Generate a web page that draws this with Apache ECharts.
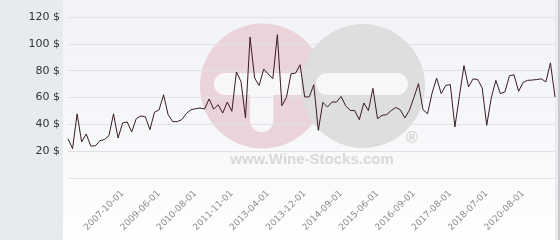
<!DOCTYPE html>
<html>
<head>
<meta charset="utf-8">
<script src="https://cdn.jsdelivr.net/npm/echarts@6/dist/echarts.min.js"></script>
<style>
html,body{margin:0;padding:0;background:#fff;}
#chart{width:560px;height:240px;}
</style>
</head>
<body>
<div id="chart"></div>
<script>
// Tick labels shown on the x axis (every 8th point, starting at point 12)
const tickLabels = ['2007-10-01','2009-06-01','2010-08-01','2011-11-01','2013-04-01','2013-12-01',
  '2014-09-01','2015-06-01','2016-09-01','2017-08-01','2018-07-01','2020-08-01'];
const firstLabelIndex = 12;
const labelEvery = 8;

// Price values ($)
const prices = [
  29.3, 21.9, 47.8, 26.9, 32.8, 23.9, 23.9, 27.8, 28.6, 31.6,
  47.8, 29.8, 41.0, 41.8, 34.3, 44.3, 46.3, 45.6, 36.0, 49.0,
  50.7, 62.0, 47.2, 42.0, 42.0, 43.5, 48.0, 50.9, 51.6, 52.2,
  51.4, 58.9, 51.4, 54.6, 48.4, 56.6, 49.7, 79.0, 72.0, 44.7,
  105.0, 74.5, 69.0, 81.2, 77.5, 74.0, 106.8, 53.9, 60.1, 77.7,
  78.2, 84.4, 60.4, 60.4, 69.5, 35.5, 56.4, 52.9, 56.6, 56.6,
  60.8, 53.9, 50.4, 50.2, 43.5, 55.9, 50.2, 66.8, 44.2, 46.7,
  47.2, 50.2, 52.6, 50.9, 44.7, 50.4, 60.0, 70.3, 50.9, 47.9,
  63.4, 74.5, 62.9, 69.0, 69.6, 38.0, 61.0, 83.8, 67.9, 73.9,
  73.4, 67.2, 39.3, 59.7, 72.8, 62.9, 64.2, 76.3, 76.9, 64.6,
  71.3, 72.8, 73.0, 73.4, 73.9, 71.6, 85.8, 60.4
];

const yTicks = [0, 20, 40, 60, 80, 100, 120];

// categories: one per point; only labelled points carry their date
const categories = prices.map(function (v, i) {
  const k = i - firstLabelIndex;
  if (k >= 0 && k % labelEvery === 0 && k / labelEvery < tickLabels.length) {
    return tickLabels[k / labelEvery];
  }
  return '';
});

const chart = echarts.init(document.getElementById('chart'), null, {renderer: 'canvas'});
chart.setOption({
  animation: false,
  backgroundColor: '#ffffff',
  graphic: [
    {type: 'rect', z: -20, shape: {x: 0, y: 0, width: 63, height: 240}, style: {fill: '#e8ebee'}, silent: true},
    {type: 'rect', z: -20, shape: {x: 63, y: 0, width: 497, height: 240},
      style: {fill: new echarts.graphic.LinearGradient(0, 0, 0, 1, [
        {offset: 0, color: '#f2f3f7'}, {offset: 0.6, color: '#f7f8fa'}, {offset: 1, color: '#ffffff'}])}, silent: true},
    {type: 'rect', z: -20, shape: {x: 555, y: 0, width: 3, height: 240}, style: {fill: '#ebebef'}, silent: true},
    {type: 'rect', z: -20, shape: {x: 558, y: 0, width: 2, height: 240}, style: {fill: '#c9c9cc'}, silent: true},
    // watermark
    {type: 'circle', z: -15, shape: {cx: 262.5, cy: 86, r: 62.5}, style: {fill: '#ead3d9'}, silent: true},
    {type: 'rect', z: -14, shape: {x: 214, y: 73, width: 100, height: 22, r: 11}, style: {fill: '#f7f7f9'}, silent: true},
    {type: 'rect', z: -14, shape: {x: 250, y: 73, width: 23.5, height: 59, r: [0, 0, 11.5, 11.5]}, style: {fill: '#f7f7f9'}, silent: true},
    {type: 'circle', z: -13, shape: {cx: 363, cy: 86, r: 62}, style: {fill: '#dedede'}, silent: true},
    {type: 'rect', z: -12, shape: {x: 316, y: 73, width: 92, height: 22, r: 11}, style: {fill: '#f7f7f9'}, silent: true},
    {type: 'text', z: -12, style: {text: 'www.Wine-Stocks.com', x: 312, y: 160, align: 'center', verticalAlign: 'middle',
      font: 'bold 15px "Liberation Sans", Arial, sans-serif', fill: '#d8d8d8'}, silent: true},
    {type: 'text', z: -12, style: {text: '®', x: 412, y: 139, align: 'center', verticalAlign: 'middle',
      font: 'bold 16px "Liberation Sans", Arial, sans-serif', fill: '#d2d2d2'}, silent: true}
  ],
  grid: {left: 68, right: 5, top: 17, bottom: 62, containLabel: false},
  xAxis: {
    type: 'category',
    data: categories,
    boundaryGap: false,
    axisLine: {show: false},
    axisTick: {show: false},
    splitLine: {show: false},
    axisLabel: {
      interval: function (i, v) { return v !== ''; },
      rotate: 45,
      margin: 14,
      fontSize: 9,
      fontFamily: '"DejaVu Sans", sans-serif',
      color: '#8c8c8c'
    }
  },
  yAxis: {
    type: 'value',
    min: yTicks[0],
    max: yTicks[yTicks.length - 1],
    interval: yTicks[1] - yTicks[0],
    axisLine: {show: false},
    axisTick: {show: false},
    splitLine: {show: true, lineStyle: {color: '#e1e2e6', width: 1}},
    axisLabel: {
      margin: 8,
      fontSize: 11,
      fontFamily: '"DejaVu Sans", sans-serif',
      color: '#333333',
      formatter: function (v) { return v === 0 ? '' : v + ' $'; }
    }
  },
  series: [{
    type: 'line',
    data: prices,
    showSymbol: false,
    symbol: 'none',
    lineStyle: {color: '#3b1b24', width: 1},
    z: 5
  }]
});
</script>
</body>
</html>
